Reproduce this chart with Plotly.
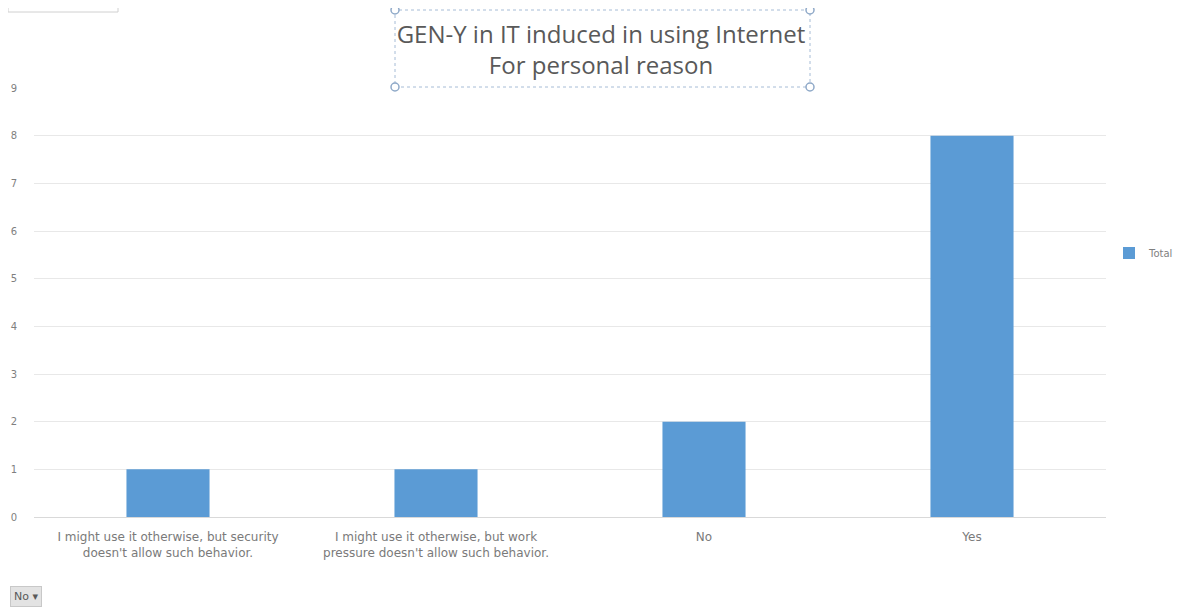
import plotly.graph_objects as go

# 数据
categories = [
    "I might use it otherwise, but security<br>doesn't allow such behavior.",
    "I might use it otherwise, but work<br>pressure doesn't allow such behavior.",
    "No",
    "Yes",
]
totals = [1, 1, 2, 8]
y_ticks = list(range(0, 10))
title_text = "GEN-Y in IT induced in using Internet<br>For personal reason"

BAR_COLOR = '#5b9bd5'
TEXT_COLOR = '#7f7f7f'

# 页面默认有8px边距，图像尺寸相应缩小
OFF = 8
W, H = 1193 - OFF, 608 - OFF

# 绘图区（截图像素坐标）
PX_L, PX_R, PX_T, PX_B = 34, 1106, 88, 517
PW, PH = PX_R - PX_L, PX_B - PX_T


def px_x(x):
    return (x - PX_L) / PW


def px_y(y):
    return (PX_B - y) / PH


fig = go.Figure()

fig.add_trace(go.Bar(
    x=categories,
    y=totals,
    name='Total',
    marker=dict(color=BAR_COLOR, line=dict(width=0)),
    showlegend=True,
))

fig.update_layout(
    width=W,
    height=H,
    paper_bgcolor='white',
    plot_bgcolor='white',
    margin=dict(l=PX_L - OFF, r=1193 - PX_R, t=PX_T - OFF, b=608 - PX_B, autoexpand=False),
    bargap=0.69,
    font=dict(family='DejaVu Sans, sans-serif', color=TEXT_COLOR, size=10),
    title=dict(
        text=title_text,
        x=(601 - OFF) / W, xanchor='center',
        y=1 - (43 - OFF) / H, yanchor='middle',
        font=dict(family='Open Sans, sans-serif', size=24, color='#595959'),
    ),
    showlegend=True,
    legend=dict(
        x=px_x(1109), y=px_y(253), xanchor='left', yanchor='middle',
        font=dict(size=10, color=TEXT_COLOR),
        itemwidth=30,
    ),
    xaxis=dict(
        showgrid=False,
        showline=True,
        linecolor='#d9d9d9',
        ticks='',
        ticklabelstandoff=9,
        tickfont=dict(family='DejaVu Sans, sans-serif', size=12, color='#7a7a7a'),
    ),
    yaxis=dict(
        range=[0, 9],
        tickvals=y_ticks,
        showgrid=True,
        gridcolor='#e8e8e8',
        zeroline=False,
        ticks='',
        ticklabelstandoff=16,
        tickfont=dict(size=10, color=TEXT_COLOR),
    ),
)

# 标题选中框（虚线框+四角圆点）
fig.add_shape(type='rect', xref='paper', yref='paper',
              x0=px_x(395), x1=px_x(810), y0=px_y(87), y1=px_y(10),
              line=dict(color='#a6bcd6', width=1, dash='dot'))
for cx in [395, 810]:
    for cy in [10, 87]:
        fig.add_shape(type='circle', xref='paper', yref='paper',
                      x0=px_x(cx - 4), x1=px_x(cx + 4),
                      y0=px_y(cy + 4), y1=px_y(cy - 4),
                      line=dict(color='#8fa9c8', width=1.5), fillcolor='white')

# 左上角按钮残留
fig.add_shape(type='rect', xref='paper', yref='paper',
              x0=px_x(8), x1=px_x(118), y0=px_y(12), y1=px_y(-10),
              line=dict(color='#d0d0d0', width=1), fillcolor='white')

# 左下角筛选按钮
fig.add_annotation(
    xref='paper', yref='paper',
    x=px_x(10), y=px_y(596),
    xanchor='left', yanchor='middle',
    text='No ▾', showarrow=False,
    font=dict(size=11, color='#595959'),
    bgcolor='#e3e3e3', bordercolor='#c8c8c8', borderwidth=1, borderpad=3,
)

fig.write_html("out.html")
